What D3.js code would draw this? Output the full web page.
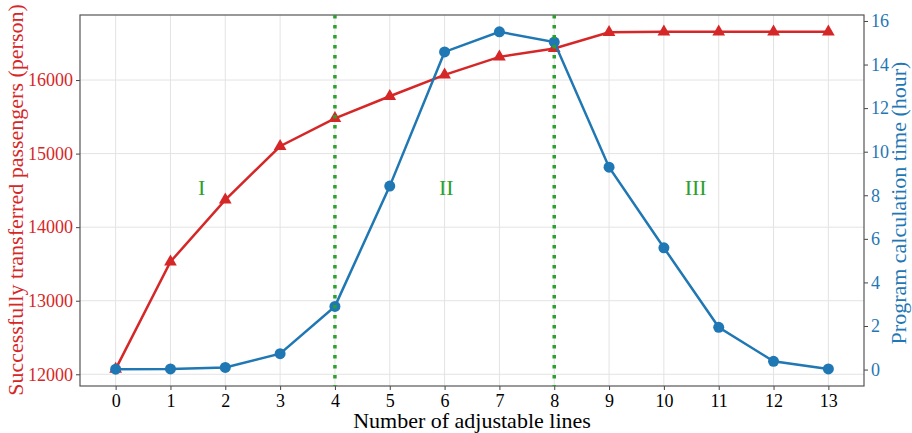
<!DOCTYPE html>
<html>
<head>
<meta charset="utf-8">
<script src="https://cdn.jsdelivr.net/npm/d3@7"></script>
<style>
  body { margin: 0; background: #fff; }
  svg text { font-family: "Liberation Serif", "Times New Roman", serif; }
</style>
</head>
<body>
<div id="chart"></div>
<script>
// number of adjustable lines
const lines = [0, 1, 2, 3, 4, 5, 6, 7, 8, 9, 10, 11, 12, 13];
// successfully transferred passengers (person)
const passengers = [12070, 13530, 14370, 15100, 15480, 15780, 16070, 16315, 16430, 16650, 16655, 16655, 16655, 16655];
// program calculation time (hour)
const calcTime = [0.02, 0.03, 0.1, 0.73, 2.9, 8.42, 14.58, 15.5, 15.03, 9.29, 5.59, 1.94, 0.38, 0.03];
const leftTicks = [12000, 13000, 14000, 15000, 16000];
const rightTicks = [0, 2, 4, 6, 8, 10, 12, 14, 16];
const boundaries = [4, 8];
const stages = [
    {label: "I", x: 1.57},
    {label: "II", x: 6.03},
    {label: "III", x: 10.58}
];

const W = 912, H = 433;
const margin = {top: 15, right: 48, bottom: 47, left: 80};
const width = W - margin.left - margin.right;
const height = H - margin.top - margin.bottom;

const red = "#d62728", blue = "#1f77b4", green = "#2ca02c";

const svg = d3.select("#chart").append("svg")
    .attr("width", W)
    .attr("height", H);

const g = svg.append("g")
    .attr("transform", `translate(${margin.left},${margin.top})`);

// scales, with matplotlib-like 5% padding
function padded(vals) {
    const lo = d3.min(vals), hi = d3.max(vals), r = hi - lo;
    return [lo - 0.05 * r, hi + 0.05 * r];
}
const x = d3.scaleLinear().domain(padded(lines)).range([0, width]);
const yL = d3.scaleLinear().domain(padded(passengers)).range([height, 0]);
const yR = d3.scaleLinear().domain(padded(calcTime)).range([height, 0]);

// grid
g.append("g").selectAll("line")
    .data(lines).join("line")
    .attr("x1", d => x(d)).attr("x2", d => x(d))
    .attr("y1", 0).attr("y2", height)
    .attr("stroke", "#e3e3e3").attr("stroke-width", 1);
g.append("g").selectAll("line")
    .data(leftTicks).join("line")
    .attr("x1", 0).attr("x2", width)
    .attr("y1", d => yL(d)).attr("y2", d => yL(d))
    .attr("stroke", "#e3e3e3").attr("stroke-width", 1);

// axes
const xAxis = g.append("g")
    .attr("transform", `translate(0,${height})`)
    .call(d3.axisBottom(x).tickValues(lines).tickFormat(d3.format("d")).tickSize(4).tickPadding(4));
xAxis.selectAll("text").attr("fill", "#000").style("font-size", "18px");

const leftAxis = g.append("g")
    .call(d3.axisLeft(yL).tickValues(leftTicks).tickFormat(d3.format("d")).tickSize(4).tickPadding(3));
leftAxis.selectAll("text").attr("fill", red).style("font-size", "18px");

const rightAxis = g.append("g")
    .attr("transform", `translate(${width},0)`)
    .call(d3.axisRight(yR).tickValues(rightTicks).tickSize(4).tickPadding(3));
rightAxis.selectAll("text").attr("fill", blue).style("font-size", "18px");

g.selectAll(".domain").remove();
g.selectAll(".tick line").attr("stroke", "#444");

// frame
g.append("rect")
    .attr("width", width).attr("height", height)
    .attr("fill", "none").attr("stroke", "#555").attr("stroke-width", 1.2);

// axis titles
svg.append("text")
    .attr("x", margin.left + width / 2).attr("y", 428)
    .attr("text-anchor", "middle")
    .style("font-size", "22px")
    .text("Number of adjustable lines");

svg.append("text")
    .attr("transform", `translate(23,${margin.top + 185}) rotate(-90)`)
    .attr("text-anchor", "middle")
    .attr("fill", red)
    .style("font-size", "22px")
    .text("Successfully transferred passengers (person)");

svg.append("text")
    .attr("transform", `translate(906,${margin.top + 188}) rotate(-90)`)
    .attr("text-anchor", "middle")
    .attr("fill", blue)
    .style("font-size", "22px")
    .text("Program calculation time (hour)");

// passengers line (left axis)
g.append("path")
    .datum(passengers)
    .attr("fill", "none").attr("stroke", red).attr("stroke-width", 2.5)
    .attr("d", d3.line().x((d, i) => x(lines[i])).y(d => yL(d)));
g.append("g").selectAll("path")
    .data(passengers).join("path")
    .attr("d", d3.symbol(d3.symbolTriangle, 70))
    .attr("transform", (d, i) => `translate(${x(lines[i])},${yL(d)})`)
    .attr("fill", red);

// calculation time line (right axis)
g.append("path")
    .datum(calcTime)
    .attr("fill", "none").attr("stroke", blue).attr("stroke-width", 2.5)
    .attr("d", d3.line().x((d, i) => x(lines[i])).y(d => yR(d)));
g.append("g").selectAll("circle")
    .data(calcTime).join("circle")
    .attr("cx", (d, i) => x(lines[i]))
    .attr("cy", d => yR(d))
    .attr("r", 5.5)
    .attr("fill", blue);

// stage boundaries
g.append("g").selectAll("line")
    .data(boundaries).join("line")
    .attr("x1", d => x(d)).attr("x2", d => x(d))
    .attr("y1", 0).attr("y2", height)
    .attr("stroke", green).attr("stroke-width", 3.5)
    .attr("stroke-dasharray", "3.5,6.5");

// stage labels
g.append("g").selectAll("text")
    .data(stages).join("text")
    .attr("x", d => x(d.x))
    .attr("y", yR(8.36) + 8)
    .attr("text-anchor", "middle")
    .attr("fill", green)
    .style("font-size", "22px")
    .text(d => d.label);
</script>
</body>
</html>
